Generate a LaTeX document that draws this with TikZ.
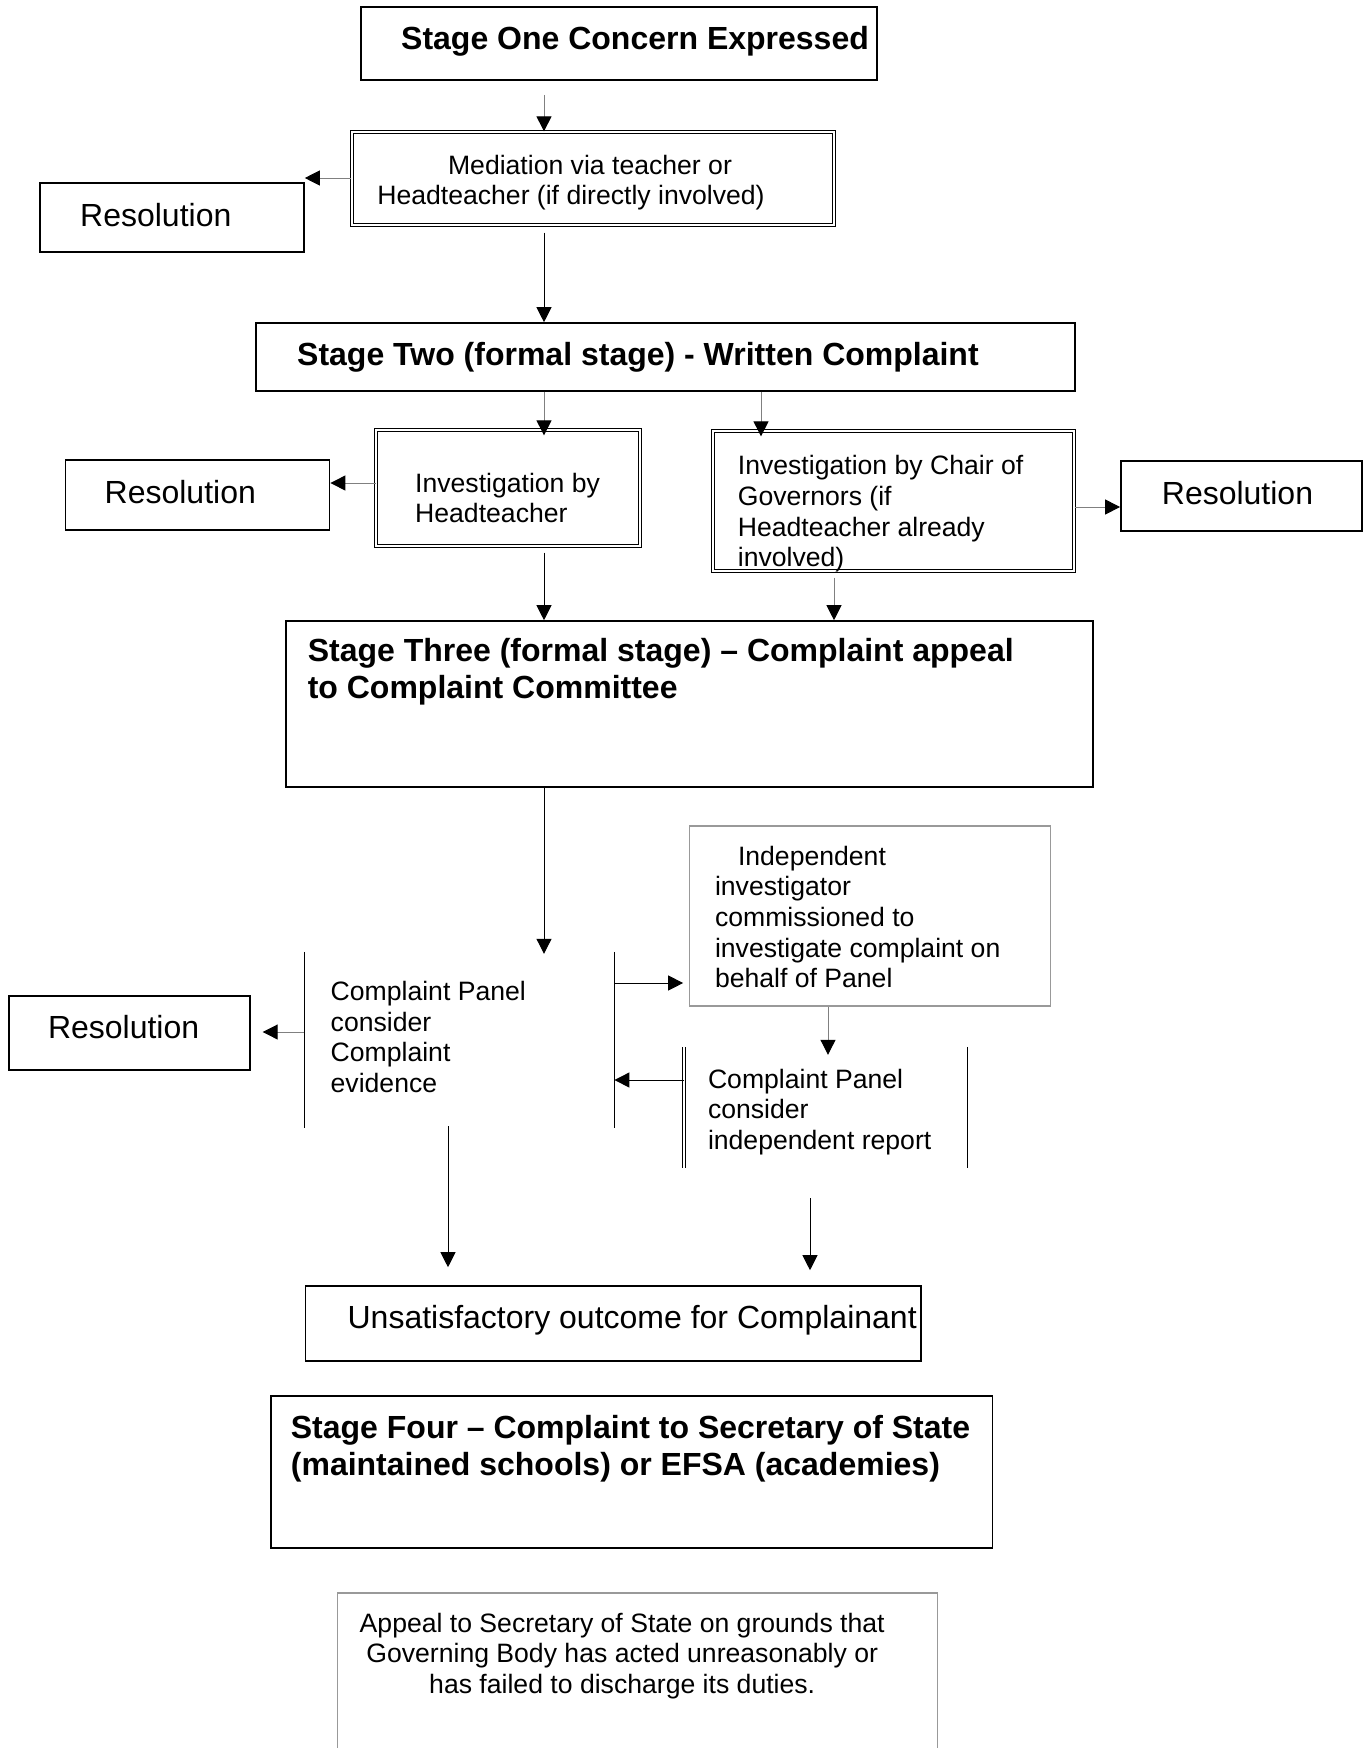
\documentclass[tikz,border=0pt]{standalone}
\usepackage{fontspec}
\setmainfont{Liberation Sans}
\usetikzlibrary{arrows.meta}
\begin{document}
\begin{tikzpicture}[x=1pt,y=-1pt,
  box/.style={draw=black, line width=1.6pt, inner sep=0pt},
  dbox/.style={draw=black, line width=1.3pt, double=white, double distance=1.6pt, inner sep=0pt},
  gbox/.style={draw=black!40, line width=1.3pt, inner sep=0pt},
  plain/.style={inner sep=0pt},
  big/.style={font=\fontsize{32}{36.8}\selectfont, inner sep=0pt, anchor=west},
  bigb/.style={font=\fontsize{32}{36.8}\selectfont\bfseries, inner sep=0pt, anchor=west, align=left},
  small/.style={font=\fontsize{26.6}{30.6}\selectfont, inner sep=0pt, anchor=west, align=left},
  arr/.style={line width=1pt, draw=black, -{Triangle[length=15pt,width=15pt,color=black]}},
  garr/.style={arr, draw=black!50},
  bar/.style={line width=1.3pt, draw=black},
  dbar/.style={line width=0.9pt, draw=black, double=white, double distance=1.8pt}
]
\clip (0,0) rectangle (1369,1748);
\fill[white] (0,0) rectangle (1369,1748);

% column / row helpers
\coordinate (c544) at (544,0);
\coordinate (c761) at (761,0);
\coordinate (c834) at (834,0);
\coordinate (c828) at (828,0);
\coordinate (c448) at (448,0);
\coordinate (c810) at (810,0);
\coordinate (r178) at (0,178);
\coordinate (r483) at (0,483);
\coordinate (r507) at (0,507);
\coordinate (r1032) at (0,1032);
\coordinate (r983) at (0,983);
\coordinate (r1080) at (0,1080);

% boxes
\node[box, minimum width=516pt, minimum height=73pt] (one) at (619,43.5) {};
\node[dbox, minimum width=482pt, minimum height=93pt] (med) at (593,178.5) {};
\node[box, minimum width=264pt, minimum height=69pt] (res1) at (172,217.5) {};
\node[box, minimum width=819pt, minimum height=68pt] (two) at (665.5,357) {};
\node[dbox, minimum width=264pt, minimum height=116pt] (invht) at (508.2,488) {};
\node[box, minimum width=264pt, minimum height=70pt] (res2) at (197.6,495) {};
\node[dbox, minimum width=361.4pt, minimum height=140pt] (chair) at (893.5,501) {};
\node[box, minimum width=241pt, minimum height=70pt] (res3) at (1241.4,496) {};
\node[box, minimum width=807pt, minimum height=166pt] (three) at (689.4,704) {};
\node[box, minimum width=241pt, minimum height=74pt] (res4) at (129.4,1033) {};
\node[gbox, minimum width=360.4pt, minimum height=180pt] (indep) at (870,916) {};
\node[plain, minimum width=309.6pt, minimum height=176pt] (panel) at (459.4,1040) {};
\node[plain, minimum width=281.7pt, minimum height=121pt] (cp2) at (825.3,1107.5) {};
\node[box, minimum width=615.2pt, minimum height=75pt] (unsat) at (613.2,1323.5) {};
\node[box, minimum width=721.7pt, minimum height=152pt] (four) at (631.6,1472) {};
\node[gbox, minimum width=600.3pt, minimum height=300pt] (appeal) at (637.6,1743) {};

% side bars
\draw[bar] (panel.north west) -- (panel.south west);
\draw[bar] (panel.north east) -- (panel.south east);
\draw[dbar] (cp2.north west) -- (cp2.south west);
\draw[dbar] (cp2.north east) -- (cp2.south east);

% texts
\node[bigb] (tOne) at (401,41.5) {Stage One Concern Expressed};
\node[small, anchor=center, align=center] (tMed) at (571,182.5) {\hspace*{38pt}Mediation via teacher or\\Headteacher (if directly involved)};
\node[big] (tRes1) at (80,215) {Resolution};
\node[bigb] (tTwo) at (297,357.5) {Stage Two (formal stage) - Written Complaint};
\node[small] (tInvHT) at (415,498) {Investigation by\\Headteacher};
\node[big] (tRes2) at (104.5,492) {Resolution};
\node[small] (tChair) at (737.7,514) {Investigation by Chair of\\Governors (if\\Headteacher already\\involved)};
\node[big] (tRes3) at (1161.7,493) {Resolution};
\node[bigb] (tThree) at (307.6,672) {Stage Three (formal stage) – Complaint appeal\\to Complaint Committee};
\node[small] (tPanel) at (330.5,1037) {Complaint Panel\\consider\\Complaint\\evidence};
\node[big] (tRes4) at (47.8,1027) {Resolution};
\node[small] (tIndep) at (714.8,917) {\hspace*{23pt}Independent\\investigator\\commissioned to\\investigate complaint on\\behalf of Panel};
\node[small] (tCP2) at (707.8,1112) {Complaint Panel\\consider\\independent report};
\node[big] (tUnsat) at (347.4,1320.5) {Unsatisfactory outcome for Complainant};
\node[bigb] (tFour) at (290.7,1449) {Stage Four – Complaint to Secretary of State\\(maintained schools) or EFSA (academies)};
\node[small, anchor=center, align=center] (tAppeal) at (622.2,1656) {Appeal to Secretary of State on grounds that\\Governing Body has acted unreasonably or\\has failed to discharge its duties.};

% connectors
\draw[garr] ([yshift=-14pt]one.south -| c544) -- (med.north -| c544);
\draw[garr] (med.west |- r178) -- (res1.east |- r178);
\draw[arr] ([yshift=-7pt]med.south -| c544) -- (two.north -| c544);
\draw[garr] (two.south -| c544) -- ([yshift=-6pt]invht.north -| c544);
\draw[garr] (two.south -| c761) -- ([yshift=-6pt]chair.north -| c761);
\draw[garr] (invht.west |- r483) -- (res2.east |- r483);
\draw[garr] (chair.east |- r507) -- (res3.west |- r507);
\draw[arr] ([yshift=-6pt]invht.south -| c544) -- (three.north -| c544);
\draw[garr] ([yshift=-6pt]chair.south -| c834) -- (three.north -| c834);
\draw[arr] (three.south -| c544) -- ([yshift=-2pt]panel.north -| c544);
\draw[garr] (panel.west |- r1032) -- ([xshift=12pt]res4.east |- r1032);
\draw[arr] (panel.east |- r983) -- ([xshift=-6pt]indep.west |- r983);
\draw[garr] (indep.south -| c828) -- ([yshift=-8pt]cp2.north -| c828);
\draw[arr] (cp2.west |- r1080) -- (panel.east |- r1080);
\draw[arr] ([yshift=2pt]panel.south -| c448) -- ([yshift=18pt]unsat.north -| c448);
\draw[arr] ([yshift=-30pt]cp2.south -| c810) -- ([yshift=15pt]unsat.north -| c810);
\end{tikzpicture}
\end{document}
